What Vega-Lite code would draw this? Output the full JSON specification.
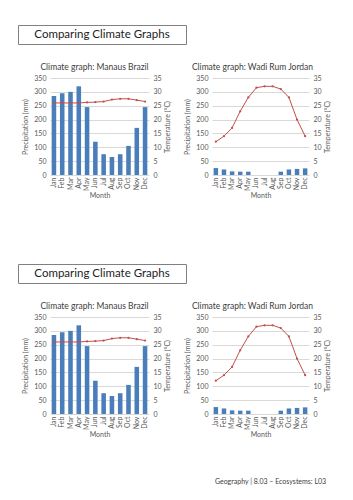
{
  "$schema": "https://vega.github.io/schema/vega-lite/v6.json",
  "padding": {"top": 24, "left": 17, "right": 0, "bottom": 0},
  "background": "white",
  "datasets": {
    "manaus": [
      {"month": "Jan", "precip": 285, "temp": 26.0},
      {"month": "Feb", "precip": 295, "temp": 26.0},
      {"month": "Mar", "precip": 300, "temp": 26.0},
      {"month": "Apr", "precip": 320, "temp": 26.0},
      {"month": "May", "precip": 245, "temp": 26.2},
      {"month": "Jun", "precip": 120, "temp": 26.3},
      {"month": "Jul", "precip": 75, "temp": 26.5},
      {"month": "Aug", "precip": 65, "temp": 27.2},
      {"month": "Sep", "precip": 75, "temp": 27.5},
      {"month": "Oct", "precip": 105, "temp": 27.5},
      {"month": "Nov", "precip": 170, "temp": 27.0},
      {"month": "Dec", "precip": 245, "temp": 26.5}
    ],
    "wadi": [
      {"month": "Jan", "precip": 25, "temp": 12},
      {"month": "Feb", "precip": 20, "temp": 14},
      {"month": "Mar", "precip": 13, "temp": 17},
      {"month": "Apr", "precip": 12, "temp": 23},
      {"month": "May", "precip": 12, "temp": 28},
      {"month": "Jun", "precip": 0, "temp": 31.5},
      {"month": "Jul", "precip": 0, "temp": 32},
      {"month": "Aug", "precip": 0, "temp": 32},
      {"month": "Sep", "precip": 12, "temp": 31},
      {"month": "Oct", "precip": 20, "temp": 28},
      {"month": "Nov", "precip": 22, "temp": 20},
      {"month": "Dec", "precip": 24, "temp": 14}
    ],
    "banner": [{"label": "Comparing Climate Graphs"}],
    "empty": []
  },
  "title": {"text": "Geography | 8.03 – Ecosystems: L03", "orient": "bottom", "anchor": "end", "fontSize": 7, "fontWeight": "normal", "font": "Lato", "color": "#404040", "offset": 41, "dx": -4},
  "spacing": 64,
  "vconcat": [
    {
      "spacing": 17,
      "vconcat": [
        {
          "width": 168, "height": 19,
          "data": {"name": "banner"},
          "mark": {"type": "text", "fontSize": 11.5, "font": "Lato", "color": "#222222"},
          "encoding": {"text": {"field": "label"}},
          "view": {"stroke": "#808080", "strokeWidth": 1}
        },
        {
          "spacing": 2,
          "hconcat": [
            {"width": 1, "height": 1, "data": {"name": "empty"}, "mark": "point", "encoding": {}},
            {
              "spacing": 12,
              "hconcat": [
                {
                  "title": {"text": "Climate graph: Manaus Brazil", "dx": -5},
                  "width": 99, "height": 97,
                  "data": {"name": "manaus"},
                  "encoding": {"x": {"field": "month", "type": "ordinal", "sort": null, "title": "Month", "scale": {"paddingInner": 0.45, "paddingOuter": 0.2}}},
                  "layer": [
                    {"mark": {"type": "bar", "color": "#4a7ebb"}, "encoding": {"y": {"field": "precip", "type": "quantitative", "scale": {"domain": [0, 350]}, "axis": {"title": "Precipitation (mm)", "values": [0, 50, 100, 150, 200, 250, 300, 350]}}}},
                    {"mark": {"type": "line", "color": "#c0504d", "strokeWidth": 1, "point": {"size": 5, "color": "#c0504d"}}, "encoding": {"y": {"field": "temp", "type": "quantitative", "scale": {"domain": [0, 35]}, "axis": {"title": "Temperature (°C)", "orient": "right", "grid": false, "titleAngle": 270, "titleBaseline": "top", "titlePadding": 2, "values": [0, 5, 10, 15, 20, 25, 30, 35]}}}}
                  ],
                  "resolve": {"scale": {"y": "independent"}}
                },
                {
                  "title": {"text": "Climate graph: Wadi Rum Jordan", "dx": -8},
                  "width": 97, "height": 97,
                  "data": {"name": "wadi"},
                  "encoding": {"x": {"field": "month", "type": "ordinal", "sort": null, "title": "Month", "scale": {"paddingInner": 0.45, "paddingOuter": 0.2}}},
                  "layer": [
                    {"mark": {"type": "bar", "color": "#4a7ebb"}, "encoding": {"y": {"field": "precip", "type": "quantitative", "scale": {"domain": [0, 350]}, "axis": {"title": "Precipitation (mm)", "values": [0, 50, 100, 150, 200, 250, 300, 350]}}}},
                    {"mark": {"type": "line", "color": "#c0504d", "strokeWidth": 1, "point": {"size": 5, "color": "#c0504d"}}, "encoding": {"y": {"field": "temp", "type": "quantitative", "scale": {"domain": [0, 35]}, "axis": {"title": "Temperature (°C)", "orient": "right", "grid": false, "titleAngle": 270, "titleBaseline": "top", "titlePadding": 2, "values": [0, 5, 10, 15, 20, 25, 30, 35]}}}}
                  ],
                  "resolve": {"scale": {"y": "independent"}}
                }
              ]
            }
          ]
        }
      ]
    },
    {
      "spacing": 17,
      "vconcat": [
        {
          "width": 168, "height": 19,
          "data": {"name": "banner"},
          "mark": {"type": "text", "fontSize": 11.5, "font": "Lato", "color": "#222222"},
          "encoding": {"text": {"field": "label"}},
          "view": {"stroke": "#808080", "strokeWidth": 1}
        },
        {
          "spacing": 2,
          "hconcat": [
            {"width": 1, "height": 1, "data": {"name": "empty"}, "mark": "point", "encoding": {}},
            {
              "spacing": 12,
              "hconcat": [
                {
                  "title": {"text": "Climate graph: Manaus Brazil", "dx": -5},
                  "width": 99, "height": 97,
                  "data": {"name": "manaus"},
                  "encoding": {"x": {"field": "month", "type": "ordinal", "sort": null, "title": "Month", "scale": {"paddingInner": 0.45, "paddingOuter": 0.2}}},
                  "layer": [
                    {"mark": {"type": "bar", "color": "#4a7ebb"}, "encoding": {"y": {"field": "precip", "type": "quantitative", "scale": {"domain": [0, 350]}, "axis": {"title": "Precipitation (mm)", "values": [0, 50, 100, 150, 200, 250, 300, 350]}}}},
                    {"mark": {"type": "line", "color": "#c0504d", "strokeWidth": 1, "point": {"size": 5, "color": "#c0504d"}}, "encoding": {"y": {"field": "temp", "type": "quantitative", "scale": {"domain": [0, 35]}, "axis": {"title": "Temperature (°C)", "orient": "right", "grid": false, "titleAngle": 270, "titleBaseline": "top", "titlePadding": 2, "values": [0, 5, 10, 15, 20, 25, 30, 35]}}}}
                  ],
                  "resolve": {"scale": {"y": "independent"}}
                },
                {
                  "title": {"text": "Climate graph: Wadi Rum Jordan", "dx": -8},
                  "width": 97, "height": 97,
                  "data": {"name": "wadi"},
                  "encoding": {"x": {"field": "month", "type": "ordinal", "sort": null, "title": "Month", "scale": {"paddingInner": 0.45, "paddingOuter": 0.2}}},
                  "layer": [
                    {"mark": {"type": "bar", "color": "#4a7ebb"}, "encoding": {"y": {"field": "precip", "type": "quantitative", "scale": {"domain": [0, 350]}, "axis": {"title": "Precipitation (mm)", "values": [0, 50, 100, 150, 200, 250, 300, 350]}}}},
                    {"mark": {"type": "line", "color": "#c0504d", "strokeWidth": 1, "point": {"size": 5, "color": "#c0504d"}}, "encoding": {"y": {"field": "temp", "type": "quantitative", "scale": {"domain": [0, 35]}, "axis": {"title": "Temperature (°C)", "orient": "right", "grid": false, "titleAngle": 270, "titleBaseline": "top", "titlePadding": 2, "values": [0, 5, 10, 15, 20, 25, 30, 35]}}}}
                  ],
                  "resolve": {"scale": {"y": "independent"}}
                }
              ]
            }
          ]
        }
      ]
    }
  ],
  "config": {
    "font": "Lato",
    "view": {"stroke": null},
    "title": {"fontSize": 8.5, "fontWeight": "normal", "color": "#404040", "offset": 3},
    "axis": {"labelFontSize": 7, "titleFontSize": 7, "titleFontWeight": "normal", "labelColor": "#595959", "titleColor": "#595959", "gridColor": "#d9d9d9", "ticks": false, "domain": false, "labelPadding": 4, "titlePadding": 5},
    "axisX": {"labelAngle": -90, "domain": false, "labelColor": "#595959", "titleColor": "#595959", "labelPadding": 2, "titlePadding": 1}
  }
}
